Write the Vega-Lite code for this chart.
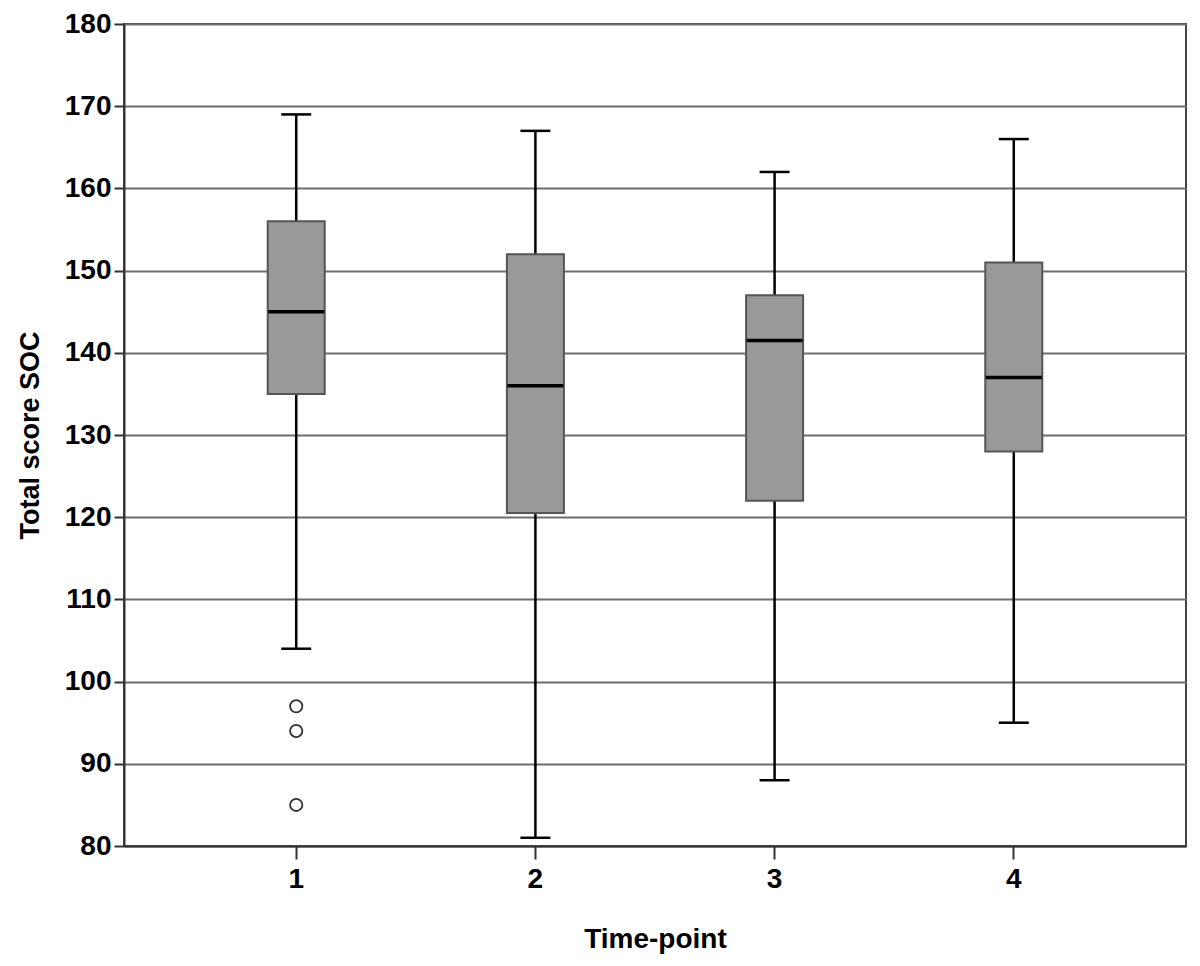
{
  "$schema": "https://vega.github.io/schema/vega-lite/v6.json",
  "width": 1062,
  "height": 822,
  "autosize": {"type": "none"},
  "padding": {"left": 124, "top": 24, "right": 14, "bottom": 120},
  "config": {
    "view": {"stroke": "#444444", "strokeWidth": 2},
    "font": "Liberation Sans"
  },
  "datasets": {
    "boxes": [
      {"t": "1", "lo": 104, "q1": 135, "med": 145, "q3": 156, "hi": 169},
      {"t": "2", "lo": 81, "q1": 120.5, "med": 136, "q3": 152, "hi": 167},
      {"t": "3", "lo": 88, "q1": 122, "med": 141.5, "q3": 147, "hi": 162},
      {"t": "4", "lo": 95, "q1": 128, "med": 137, "q3": 151, "hi": 166}
    ],
    "outliers": [
      {"t": "1", "v": 97},
      {"t": "1", "v": 94},
      {"t": "1", "v": 85}
    ]
  },
  "layer": [
    {
      "data": {"name": "boxes"},
      "mark": {"type": "rule", "color": "black", "strokeWidth": 2.5},
      "encoding": {
        "x": {"field": "t", "type": "nominal", "sort": ["1","2","3","4"],
          "scale": {"type": "band", "paddingInner": 0, "paddingOuter": 0.22},
          "axis": {"title": "Time-point", "labelAngle": 0, "labelFont": "Liberation Sans", "labelFontWeight": "bold", "labelFontSize": 28, "labelColor": "black", "labelPadding": 6,
            "tickSize": 13, "tickColor": "#333333", "tickWidth": 2, "domainColor": "#333333", "domainWidth": 2,
            "titleFont": "Liberation Sans", "titleFontWeight": "bold", "titleFontSize": 28, "titleColor": "black", "titlePadding": 32}},
        "y": {"field": "lo", "type": "quantitative",
          "scale": {"domain": [80, 180], "nice": false, "zero": false},
          "axis": {"title": "Total score SOC", "values": [80,90,100,110,120,130,140,150,160,170,180],
            "labelFont": "Liberation Sans", "labelFontWeight": "bold", "labelFontSize": 28, "labelColor": "black", "labelPadding": 3,
            "tickSize": 10, "tickColor": "#333333", "tickWidth": 2, "domainColor": "#333333", "domainWidth": 2,
            "grid": true, "gridColor": "#6e6e6e", "gridWidth": 2,
            "titleFont": "Liberation Sans", "titleFontWeight": "bold", "titleFontSize": 27, "titleColor": "black", "titlePadding": 20}},
        "y2": {"field": "hi"}
      }
    },
    {
      "data": {"name": "boxes"},
      "mark": {"type": "bar", "size": 57, "fill": "#999999", "stroke": "#555555", "strokeWidth": 2},
      "encoding": {
        "x": {"field": "t", "type": "nominal", "sort": ["1","2","3","4"]},
        "y": {"field": "q1", "type": "quantitative"},
        "y2": {"field": "q3"}
      }
    },
    {
      "data": {"name": "boxes"},
      "mark": {"type": "tick", "size": 56, "thickness": 3.5, "color": "black", "opacity": 1},
      "encoding": {
        "x": {"field": "t", "type": "nominal", "sort": ["1","2","3","4"]},
        "y": {"field": "med", "type": "quantitative"}
      }
    },
    {
      "data": {"name": "boxes"},
      "mark": {"type": "tick", "size": 30, "thickness": 2.5, "color": "black", "opacity": 1},
      "encoding": {
        "x": {"field": "t", "type": "nominal", "sort": ["1","2","3","4"]},
        "y": {"field": "hi", "type": "quantitative"}
      }
    },
    {
      "data": {"name": "boxes"},
      "mark": {"type": "tick", "size": 30, "thickness": 2.5, "color": "black", "opacity": 1},
      "encoding": {
        "x": {"field": "t", "type": "nominal", "sort": ["1","2","3","4"]},
        "y": {"field": "lo", "type": "quantitative"}
      }
    },
    {
      "data": {"name": "outliers"},
      "mark": {"type": "point", "shape": "circle", "size": 150, "filled": false, "stroke": "#333333", "strokeWidth": 1.8, "fill": "white", "fillOpacity": 1, "opacity": 1},
      "encoding": {
        "x": {"field": "t", "type": "nominal", "sort": ["1","2","3","4"]},
        "y": {"field": "v", "type": "quantitative"}
      }
    }
  ]
}
